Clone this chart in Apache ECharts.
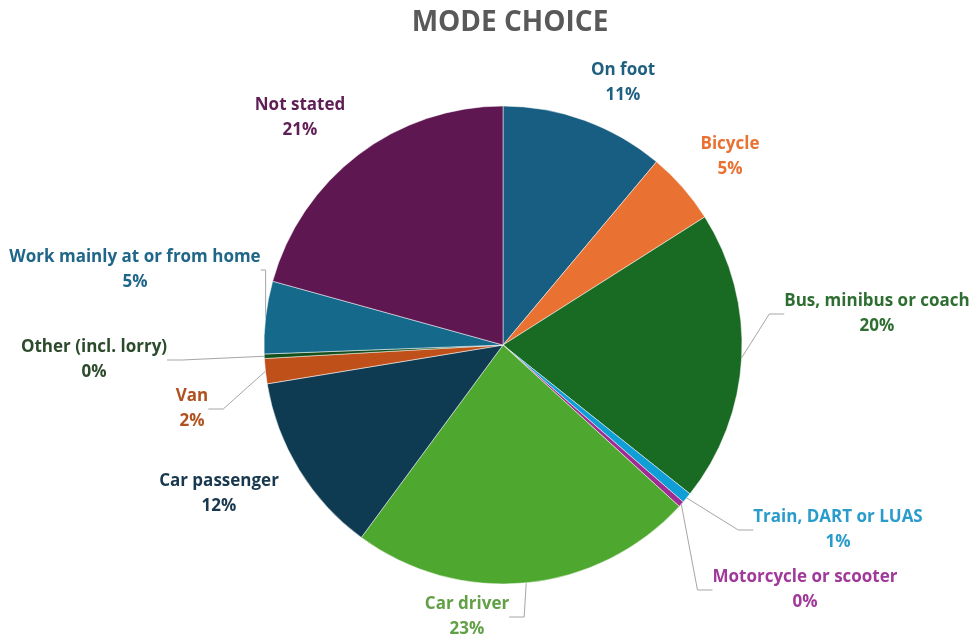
<!DOCTYPE html>
<html>
<head>
<meta charset="utf-8">
<script src="https://cdn.jsdelivr.net/npm/echarts@6/dist/echarts.min.js"></script>
<style>
  html, body { margin: 0; padding: 0; background: #ffffff; }
  #chart { width: 976px; height: 642px; }
</style>
</head>
<body>
<div id="chart"></div>
<script>
// ---- data ----
const categories = [
  'On foot', 'Bicycle', 'Bus, minibus or coach', 'Train, DART or LUAS',
  'Motorcycle or scooter', 'Car driver', 'Car passenger', 'Van',
  'Other (incl. lorry)', 'Work mainly at or from home', 'Not stated'
];
const shares = [11.1, 4.9, 19.7, 0.7, 0.4, 23.3, 12.3, 1.7, 0.3, 4.9, 20.7];

// ---- styling (kept apart from data) ----
const sliceColors = ['#175E82', '#E97132', '#196B24', '#0F9ED5', '#A02B93', '#4EA72E',
                     '#0E3A52', '#C0501A', '#124F1A', '#156A8C', '#5F1752'];
const textColors  = ['#1F5F80', '#E97132', '#2F6E32', '#2A9CCB', '#A0399A', '#62A047',
                     '#17384E', '#B0521F', '#2C4A2C', '#1F6688', '#5F1E55'];
const showLine    = [false, false, true, true, true, true, false, true, true, true, false];
const labelPos    = [[623, 83], [730, 157], [877, 314], [838, 530], [805, 590], [467, 617],
                     [219, 494], [192, 409], [94, 360], [135, 270], [300, 118]];

const total = shares.reduce((a, b) => a + b, 0);

const chart = echarts.init(document.getElementById('chart'), null, { renderer: 'canvas' });
chart.setOption({
  backgroundColor: '#ffffff',
  animation: false,
  title: {
    text: 'MODE CHOICE',
    left: 505,
    textAlign: 'center',
    top: 4,
    textStyle: { fontFamily: 'Open Sans', fontSize: 28, fontWeight: 'bold', color: '#595959' }
  },
  series: [{
    type: 'pie',
    center: [503, 345],
    radius: 239,
    startAngle: 90,
    clockwise: true,
    avoidLabelOverlap: false,
    itemStyle: { borderColor: '#ffffff', borderWidth: 0.5 },
    label: {
      show: true,
      position: 'outside',
      fontFamily: 'Open Sans',
      fontWeight: 'bold',
      fontSize: 17,
      lineHeight: 25,
      align: 'center',
      formatter: p => p.name + '\n' + Math.round(shares[p.dataIndex] / total * 100) + '%'
    },
    labelLine: {
      show: true,
      length: 15,
      length2: 15,
      lineStyle: { color: '#A6A6A6', width: 1 }
    },
    labelLayout: function (params) {
      const pos = labelPos[params.dataIndex];
      return { x: pos[0], y: pos[1], align: 'center', verticalAlign: 'middle' };
    },
    data: categories.map((name, i) => ({
      name: name,
      value: shares[i],
      itemStyle: { color: sliceColors[i] },
      label: { color: textColors[i] },
      labelLine: { show: showLine[i] }
    }))
  }]
});
</script>
</body>
</html>
